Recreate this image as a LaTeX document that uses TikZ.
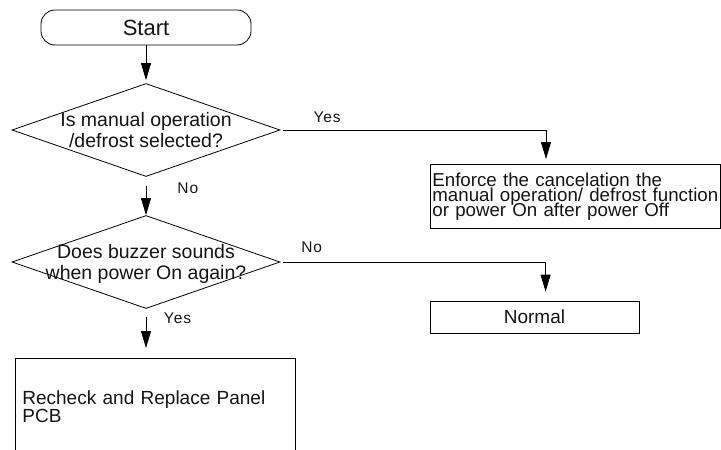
\documentclass[tikz,border=0pt]{standalone}
\usepackage{fontspec}
\setmainfont{Liberation Sans}
\newfontfamily\lblfont{Liberation Sans}[LetterSpace=6]
\usetikzlibrary{arrows.meta,shapes.geometric}

\begin{document}
\begin{tikzpicture}[x=1pt, y=-1pt, >={Triangle[width=10pt,length=17pt]}, line width=0.8pt,
  every node/.style={text=black!92},
  box/.style={draw, rectangle, inner sep=0pt},
  dec/.style={draw, diamond, minimum width=268pt, minimum height=93pt, inner sep=0pt},
  dectext/.style={align=center, inner sep=0pt, font=\fontsize{19.5}{21}\selectfont},
  lbl/.style={inner sep=0pt, font=\lblfont\fontsize{15.5}{15.5}\selectfont}]
  \useasboundingbox (0,0) rectangle (721,450);
  \clip (0,0) rectangle (721,450);
  \node[draw, rounded corners=14pt, minimum width=210pt, minimum height=35pt, font=\fontsize{22}{24}\selectfont] (start) at (146,27.5) {Start};
  \node[dec, label={[dectext]center:{Is manual operation\\/defrost selected?}}] (dec1) at (146,130) {};
  \node[box, anchor=north west, minimum width=290pt, minimum height=64pt, text width=286pt, inner xsep=2pt, align=left, font={\fontsize{18.7}{15}\selectfont\lineskiplimit=-20pt}] (enforce) at (430,164) {Enforce the cancelation the\\manual operation/ defrost function\\or power On after power Off};
  \node[dec, label={[dectext, yshift=-2pt]center:{Does buzzer sounds\\when power On again?}}] (dec2) at (146,262) {};
  \node[box, minimum width=209pt, minimum height=32pt, font=\fontsize{19}{21}\selectfont] (normal) at (534.5,317) {Normal};
  \node[box, anchor=north west, minimum width=280pt, minimum height=96pt, text width=266pt, inner xsep=7pt, align=left, font={\fontsize{19}{18}\selectfont\lineskiplimit=-20pt}] (recheck) at (15,358) {Recheck and Replace Panel\\PCB};
  \draw[->, shorten >=3pt] (start) -- (dec1);
  \draw[->, shorten <=3pt, shorten >=5pt] (dec1.east) -| node[lbl, pos=0.088, above=7pt] {Yes} ([xshift=116pt]enforce.north west);
  \draw[->, shorten <=9pt] (dec1.south) -- node[lbl, pos=0.29, right=31pt] {No} (dec2.north);
  \draw[->, shorten <=3pt, shorten >=9pt] (dec2.east) -| node[lbl, pos=0.059, above=9pt] {No} ([xshift=116pt]normal.north west);
  \draw[->, shorten <=8pt, shorten >=10pt] (dec2.south) -- node[lbl, pos=0.19, right=17.5pt] {Yes} (recheck.north -| dec2.south);
\end{tikzpicture}
\end{document}
